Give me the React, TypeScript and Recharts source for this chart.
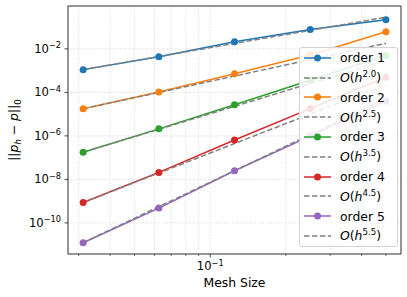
import React from 'react';
import { LineChart, Line, XAxis, YAxis, CartesianGrid, Legend, ReferenceArea } from 'recharts';

// mesh sizes h = 1/32 ... 1/2
const meshSizes = [1 / 32, 1 / 16, 1 / 8, 1 / 4, 1 / 2];

// ||p_h - p||_0
const order1 = [1.11e-3, 4.3e-3, 2.1e-2, 7.8e-2, 0.22];
const order2 = [1.76e-5, 1.05e-4, 7.2e-4, 5.2e-3, 6.1e-2];
const order3 = [1.78e-7, 2.1e-6, 2.7e-5, 3.6e-4, 5.0e-3];
const order4 = [8.7e-10, 2.1e-8, 6.5e-7, 1.8e-5, 5.0e-4];
const order5 = [1.23e-11, 4.8e-10, 2.5e-8, 9.8e-7, 4.0e-5];

// reference slopes O(h^r), anchored on the first point
const ref1 = [1.11e-3, 4.44e-3, 1.78e-2, 7.1e-2, 0.284];
const ref2 = [1.76e-5, 9.96e-5, 5.63e-4, 3.19e-3, 1.8e-2];
const ref3 = [1.78e-7, 2.01e-6, 2.28e-5, 2.58e-4, 2.92e-3];
const ref4 = [8.7e-10, 1.97e-8, 4.45e-7, 1.01e-5, 2.28e-4];
const ref5 = [1.23e-11, 5.57e-10, 2.52e-8, 1.14e-6, 5.16e-5];

const seriesNames = ['order 1', 'order 2', 'order 3', 'order 4', 'order 5'];
const rateLabels = ['2.0', '2.5', '3.5', '4.5', '5.5'];

const xTicks = [0.03, 0.04, 0.05, 0.06, 0.07, 0.08, 0.09, 0.1, 0.2, 0.3, 0.4, 0.5];
const yTicks = [1e-10, 1e-8, 1e-6, 1e-4, 1e-2];
const xDomain = [0.0272, 0.574];
const yDomain = [3.72e-12, 0.933];

const COLORS = ['#1f77b4', '#ff7f0e', '#2ca02c', '#d62728', '#9467bd'];
const REF_COLOR = '#808080';
const FONT = '"DejaVu Sans", sans-serif';
const FS = 11.6;
const LABEL_FS = 12.4;

const errors = [order1, order2, order3, order4, order5];
const refs = [ref1, ref2, ref3, ref4, ref5];

const data = meshSizes.map((h, i) => {
  const row: any = { h };
  errors.forEach((e, k) => {
    row[`o${k}`] = e[i];
    row[`r${k}`] = refs[k][i];
  });
  return row;
});

const XTick = (props: any) => {
  const { x, y, payload } = props;
  const major = Math.abs(payload.value - 0.1) < 1e-9;
  return (
    <g>
      <line x1={x} x2={x} y1={y} y2={y + (major ? 3.5 : 2)} stroke="#333" strokeWidth={major ? 0.9 : 0.7} />
      {major && (
        <text x={x} y={y + 16} textAnchor="middle" fontSize={FS} fontFamily={FONT} fill="#000">
          10<tspan dy={-4.5} fontSize={8.2}>−1</tspan>
        </text>
      )}
    </g>
  );
};

const YTick = (props: any) => {
  const { x, y, payload } = props;
  const exp = Math.round(Math.log10(payload.value));
  return (
    <g>
      <line x1={x - 3.5} x2={x} y1={y} y2={y} stroke="#333" strokeWidth={0.9} />
      <text x={x - 7} y={y + 4} textAnchor="end" fontSize={FS} fontFamily={FONT} fill="#000">
        10<tspan dy={-4.5} fontSize={8.2}>{`−${Math.abs(exp)}`}</tspan>
      </text>
    </g>
  );
};

const YLabel = (props: any) => {
  const { viewBox } = props;
  const cx = viewBox.x + 18;
  const cy = viewBox.y + viewBox.height / 2;
  return (
    <text x={cx} y={cy} transform={`rotate(-90 ${cx} ${cy})`} textAnchor="middle" fontSize={LABEL_FS} fontFamily={FONT} fill="#000">
      ||<tspan fontStyle="italic">p</tspan>
      <tspan fontStyle="italic" fontSize={8.6} dy={2.5}>h</tspan>
      <tspan dy={-2.5}> − </tspan>
      <tspan fontStyle="italic">p</tspan>
      <tspan>||</tspan>
      <tspan fontSize={8.6} dy={2.5}>0</tspan>
    </text>
  );
};

const XLabel = (props: any) => {
  const { viewBox } = props;
  return (
    <text x={viewBox.x + viewBox.width / 2} y={viewBox.y + 33} textAnchor="middle" fontSize={LABEL_FS} fontFamily={FONT} fill="#000">
      Mesh Size
    </text>
  );
};

const ROW = 19.8;

const LegendBox = () => (
  <div
    style={{
      position: 'relative',
      width: 99,
      height: 200,
      boxSizing: 'border-box',
      border: '1px solid #d3d3d3',
      borderRadius: 3,
      background: 'rgba(255,255,255,0.85)',
      fontFamily: FONT,
      fontSize: LABEL_FS,
      color: '#000',
    }}
  >
    {seriesNames.map((name, k) => {
      const top1 = 9.7 + 2 * k * ROW;
      const top2 = top1 + ROW;
      return (
        <React.Fragment key={name}>
          <div style={{ position: 'absolute', left: 4, top: top1 - 10, height: 20, display: 'flex', alignItems: 'center', whiteSpace: 'nowrap' }}>
            <svg width={27} height={10} style={{ display: 'block' }}>
              <line x1={0} x2={27} y1={5} y2={5} stroke={COLORS[k]} strokeWidth={1.5} />
              <circle cx={13.5} cy={5} r={3.5} fill={COLORS[k]} />
            </svg>
            <span style={{ marginLeft: 9 }}>{name}</span>
          </div>
          <div style={{ position: 'absolute', left: 4, top: top2 - 10, height: 20, display: 'flex', alignItems: 'center', whiteSpace: 'nowrap' }}>
            <svg width={27} height={10} style={{ display: 'block' }}>
              <line x1={0} x2={27} y1={5} y2={5} stroke={REF_COLOR} strokeWidth={1.5} strokeDasharray="5.5 2.4" />
            </svg>
            <span style={{ marginLeft: 9 }}>
              <i>O</i>(<i>h</i>
              <sup style={{ fontSize: 8.6, lineHeight: 0, verticalAlign: 5 }}>{rateLabels[k]}</sup>)
            </span>
          </div>
        </React.Fragment>
      );
    })}
  </div>
);

export default function App() {
  return (
    <div style={{ position: 'absolute', left: 0, top: 0, width: 407, height: 297, background: '#fff' }}>
      <LineChart width={407} height={297} data={data} margin={{ top: 6, right: 6, bottom: 0, left: 0 }}>
        <CartesianGrid stroke="#cfcfcf" strokeDasharray="1 1.6" strokeWidth={0.8} />
        <XAxis
          dataKey="h"
          type="number"
          scale="log"
          domain={xDomain}
          allowDataOverflow
          ticks={xTicks}
          interval={0}
          tick={<XTick />}
          tickLine={false}
          axisLine={false}
          tickSize={0}
          tickMargin={0}
          height={43}
          label={<XLabel />}
        />
        <YAxis
          type="number"
          scale="log"
          domain={yDomain}
          allowDataOverflow
          ticks={yTicks}
          interval={0}
          tick={<YTick />}
          tickLine={false}
          axisLine={false}
          tickSize={0}
          tickMargin={0}
          width={68}
          label={<YLabel />}
        />
        {errors.map((_, k) => [
          <Line
            key={`o${k}`}
            dataKey={`o${k}`}
            stroke={COLORS[k]}
            strokeWidth={1.5}
            dot={{ r: 3.5, fill: COLORS[k], stroke: COLORS[k], strokeWidth: 0 }}
            activeDot={false}
            isAnimationActive={false}
          />,
          <Line
            key={`r${k}`}
            dataKey={`r${k}`}
            stroke={REF_COLOR}
            strokeWidth={1.5}
            strokeDasharray="5.5 2.4"
            dot={false}
            activeDot={false}
            isAnimationActive={false}
          />,
        ])}
        <ReferenceArea
          x1={xDomain[0]}
          x2={xDomain[1]}
          y1={yDomain[0]}
          y2={yDomain[1]}
          fill="none"
          stroke="#333"
          strokeWidth={1}
          ifOverflow="visible"
        />
        <Legend
          content={<LegendBox />}
          layout="horizontal"
          verticalAlign="middle"
          align="center"
          wrapperStyle={{ left: 299, top: 47, width: 99, height: 200 }}
        />
      </LineChart>
    </div>
  );
}
